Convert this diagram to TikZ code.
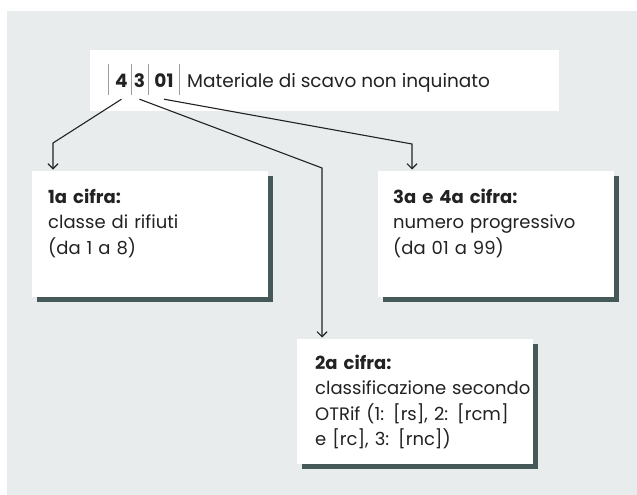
\documentclass[tikz,border=0pt]{standalone}
\usepackage{fontspec}
\setmainfont{Poppins}
\usetikzlibrary{calc,shadows,arrows.meta}
\definecolor{bggrey}{RGB}{232,236,236}
\definecolor{shadegreen}{RGB}{69,89,88}
\definecolor{inkgrey}{RGB}{34,34,34}
\definecolor{bargrey}{RGB}{150,160,160}
\tikzset{
	digit/.style={font=\fontsize{18.5}{22}\selectfont\bfseries, text=inkgrey, inner sep=0pt, text depth=12pt, anchor=base},
	titletext/.style={font=\fontsize{18.5}{22}\selectfont, text=inkgrey, inner sep=0pt, anchor=base west},
	infobox/.style={fill=white, inner sep=0pt, minimum width=236pt, anchor=north west,
		general shadow={fill=shadegreen, shadow xshift=5pt, shadow yshift=-5pt}},
	boxtext/.style={font=\fontsize{18}{25.5}\selectfont, text=inkgrey, text width=226pt, align=left, inner sep=0pt, anchor=base west},
	conn/.style={draw=inkgrey, line width=1.1pt, -{Straight Barb[length=5pt,width=10pt]}, shorten >=1.5pt},
}

\begin{document}
\begin{tikzpicture}[x=1pt, y=-1pt]
			%%%%% START %%%%%
			
			\useasboundingbox (0,0) rectangle (637,495);
			\fill[bggrey] (7,11) rectangle (637,495);
			
			% title line with code 4 3 01
			\fill[white] (90,50) rectangle (559,111);
			\foreach \x in {108,131,148,179}
				\draw[bargrey, line width=0.9pt] (\x,64) -- (\x,95);
			\node[digit] (d4) at (121.5,87) {4};
			\node[digit] (d3) at (139.5,87) {3};
			\node[digit] (d01) at (164,87) {01};
			\node[titletext] (title) at (187,87) {Materiale di scavo non inquinato};
			
			% boxes
			\node[infobox, minimum height=126pt] (b1) at (32,171) {};
			\node[infobox, minimum height=126pt] (b3) at (378,171) {};
			\node[infobox, minimum height=125pt] (b2) at (297,339) {};
			
			\node[boxtext] (t1) at (48,203) {\textbf{1a cifra:}\\classe di rifiuti\\(da 1 a 8)};
			\node[boxtext] (t3) at (393,203) {\textbf{3a e 4a cifra:}\\numero progressivo\\(da 01 a 99)};
			\node[boxtext] (t2) at (315,369) {\textbf{2a cifra:}\\classificazione secondo\\OTRif (1: [rs], 2: [rcm]\\e [rc], 3: [rnc])};
			
			% connectors
			\coordinate (k1) at (53,143);
			\coordinate (k2) at (322,168);
			\coordinate (k3) at (412,144);
			\draw[conn] (d4.south) -- (k1) -- (k1 |- b1.north);
			\draw[conn] (d3.south) -- (k2) -- (k2 |- b2.north);
			\draw[conn] (d01.south) -- (k3) -- (k3 |- b3.north);
			
			%%%%% END %%%%%
\end{tikzpicture}
\end{document}
